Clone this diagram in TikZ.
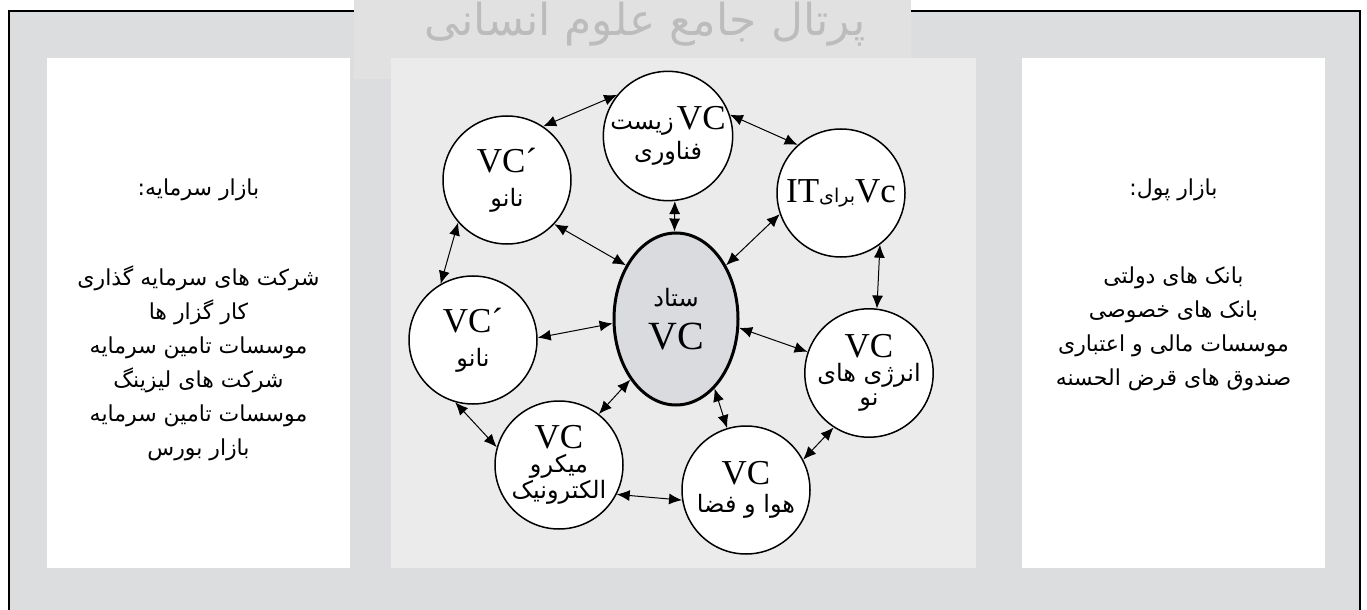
\documentclass[tikz,border=0pt]{standalone}
\usepackage{fontspec}
\setmainfont{Liberation Serif}
\newfontfamily\fa[Script=Arabic]{DejaVu Sans}
\TeXXeTstate=1
\usetikzlibrary{arrows.meta,shapes.geometric}
\definecolor{framegray}{RGB}{220,221,223}
\definecolor{panelgray}{RGB}{235,235,235}
\definecolor{hubgray}{RGB}{218,219,222}
\definecolor{wmgray}{RGB}{224,225,224}
\definecolor{wmtext}{RGB}{188,188,188}
\newcommand\vcfont{\fontsize{17.5}{18}\selectfont}
\newcommand\vcbig{\fontsize{20}{21}\selectfont}
\newcommand\fatxt{\fa\fontsize{12}{14}\selectfont}
\newcommand\fasm{\fa\fontsize{9.5}{10}\selectfont}
\newcommand\fapanel{\fa\fontsize{11}{17}\selectfont}
\begin{document}
\begin{tikzpicture}[x=0.5pt,y=-0.5pt,
  vc/.style={circle,draw,line width=0.75pt,fill=white,minimum size=64pt,inner sep=0pt,align=center},
  hub/.style={ellipse,draw,line width=1.5pt,fill=hubgray,minimum width=62pt,minimum height=86pt,inner sep=0pt,align=center},
  link/.style={{Latex[length=6.5pt,width=5.5pt]}-{Latex[length=6.5pt,width=5.5pt]},line width=0.5pt},
  paneltext/.style={align=center,inner sep=0pt,font=\fapanel}]
\useasboundingbox (0,0) rectangle (1367,610);
% frame
\fill[framegray] (9,11.5) rectangle (1359.5,612);
\draw[line width=1pt] (9,612) -- (9,11.5) -- (1359.5,11.5) -- (1359.5,612);
% watermark box
\fill[wmgray] (354,0) rectangle (911,79);
% panels
\fill[white] (47,58) rectangle (350,568);
\fill[panelgray] (391,58) rectangle (976,568);
\fill[white] (1022,58) rectangle (1325,568);
% watermark text
\node[text=wmtext,font=\fa\fontsize{22}{24}\selectfont,inner sep=0pt] (wm) at (645,24) {\beginR پرتال جامع علوم انسانی\endR};
% left panel
\node[paneltext] (ltitle) at (198.5,190) {\beginR بازار سرمایه:\endR};
\node[paneltext] (llist) at (198.5,363) {\beginR شرکت های سرمایه گذاری\endR\\
  \beginR کار گزار ها\endR\\
  \beginR موسسات تامین سرمایه\endR\\
  \beginR شرکت های لیزینگ\endR\\
  \beginR موسسات تامین سرمایه\endR\\
  \beginR بازار بورس\endR};
% right panel
\node[paneltext] (rtitle) at (1173.5,190) {\beginR بازار پول:\endR};
\node[paneltext] (rlist) at (1173.5,328.5) {\beginR بانک های دولتی\endR\\
  \beginR بانک های خصوصی\endR\\
  \beginR موسسات مالی و اعتباری\endR\\
  \beginR صندوق های قرض الحسنه\endR};
% hub
\node[hub] (hub) at (676,319) {{\fatxt\beginR ستاد\endR}\\[7pt]{\vcbig VC}};
% satellites
\node[vc] (bio) at (668,136) {{\fatxt\beginR زیست\endR}\,{\vcfont VC}\\[2pt]{\fatxt\beginR فناوری\endR}};
\node[vc] (nanoA) at (507,180) {{\vcfont VC´}\\[5pt]{\fatxt\beginR نانو\endR}};
\node[vc] (it) at (841,193) {{\vcfont IT}{\fasm\beginR برای\endR}{\vcfont Vc}};
\node[vc] (nanoB) at (473,340) {{\vcfont VC´}\\[5pt]{\fatxt\beginR نانو\endR}};
\node[vc] (micro) at (559,465) {{\vcfont VC}\\{\fatxt\beginR میکرو\endR}\\{\fatxt\beginR الکترونیک\endR}};
\node[vc] (hava) at (746,490) {{\vcfont VC}\\[2pt]{\fatxt\beginR هوا و فضا\endR}};
\node[vc] (energy) at (869,373) {{\vcfont VC}\\{\fatxt\beginR انرژی های\endR}\\{\fatxt\beginR نو\endR}};
% links
\draw[link] (nanoA.56) -- (bio.141);
\draw[link] (bio.19) -- (it.132);
\draw[link] (bio.-84) -- (hub.91);
\draw[link] (nanoA.-43) -- (hub.133);
\draw[link] (it.199) -- (hub.47);
\draw[link] (it.-53) -- (energy.83);
\draw[link] (hub.-8) -- (energy.161);
\draw[link] (hub.-61) -- (hava.107);
\draw[link] (energy.-123) -- (hava.28);
\draw[link] (nanoB.2) -- (hub.184);
\draw[link] (hub.233) -- (micro.52);
\draw[link] (nanoB.-106) -- (micro.164);
\draw[link] (micro.-27) -- (hava.189);
\draw[link] (nanoA.221) -- (nanoB.120);
\end{tikzpicture}
\end{document}
